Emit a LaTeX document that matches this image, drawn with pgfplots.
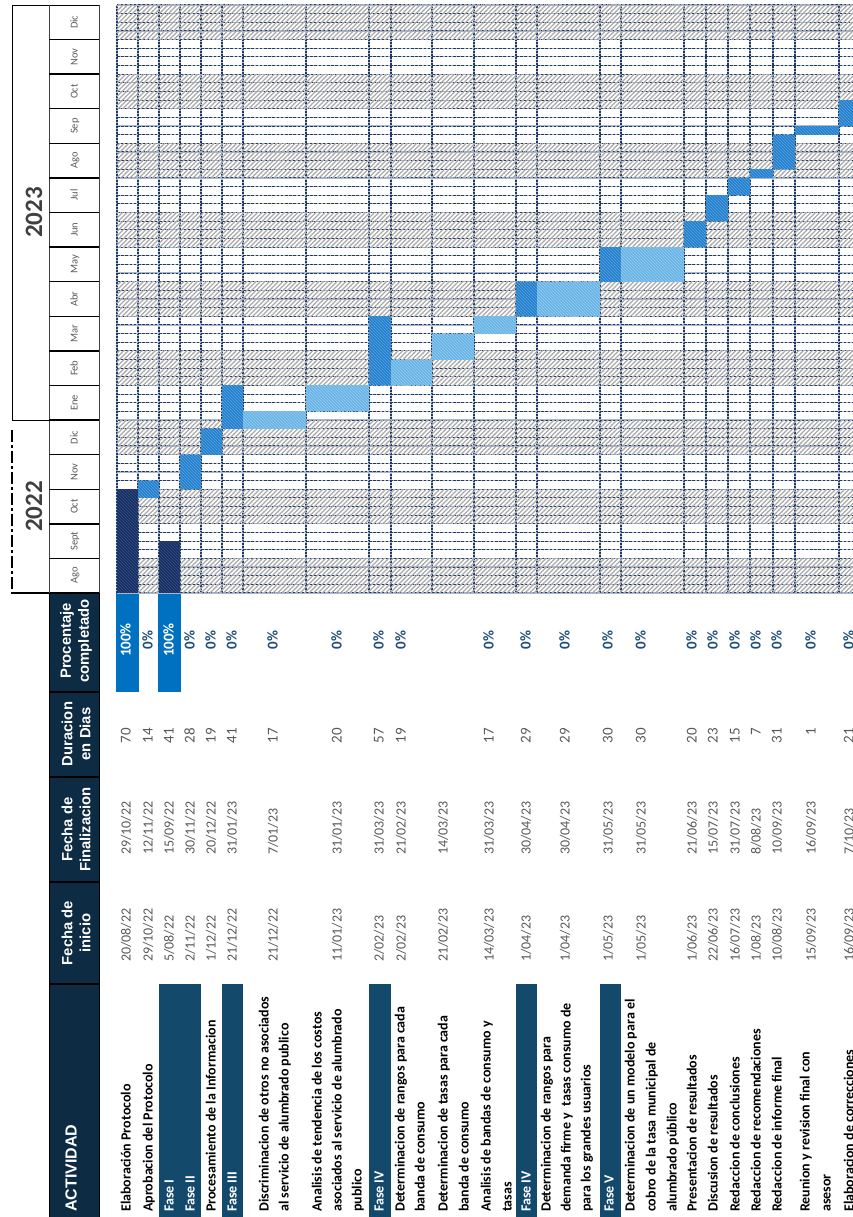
\documentclass[border=0pt]{standalone}
\usepackage{pgfplots}
\pgfplotsset{compat=1.18}
\usetikzlibrary{patterns}
\usepackage{fontspec}
\setmainfont{Carlito}
\newfontfamily\arialf{Liberation Sans}

\definecolor{hdr}{HTML}{0D2B43}
\definecolor{fase}{HTML}{134A6C}
\definecolor{pct}{HTML}{0070C0}
\definecolor{pcttxt}{HTML}{1F4E79}
\definecolor{txtgray}{HTML}{595959}
\definecolor{yeargray}{HTML}{404040}
\definecolor{gridnavy}{HTML}{1F3864}
\definecolor{gridlight}{HTML}{A9B7D3}
\definecolor{hatchc}{HTML}{ABABAB}
\definecolor{dark}{HTML}{14295A}
\definecolor{darkS}{HTML}{2E4A80}
\definecolor{med}{HTML}{1C78C8}
\definecolor{medS}{HTML}{4E9DDC}
\definecolor{light}{HTML}{62B0E4}
\definecolor{lightS}{HTML}{8DC7EE}

\pgfdeclarepatternformonly{hne}{\pgfqpoint{-1pt}{-1pt}}{\pgfqpoint{5.5pt}{5.5pt}}{\pgfqpoint{4.5pt}{4.5pt}}{%
  \pgfsetlinewidth{1.3pt}\pgfpathmoveto{\pgfqpoint{-0.2pt}{-0.2pt}}\pgfpathlineto{\pgfqpoint{4.7pt}{4.7pt}}\pgfusepath{stroke}}
\pgfdeclarepatternformonly{hnw}{\pgfqpoint{-1pt}{-1pt}}{\pgfqpoint{4pt}{4pt}}{\pgfqpoint{3pt}{3pt}}{%
  \pgfsetlinewidth{0.9pt}\pgfpathmoveto{\pgfqpoint{0pt}{3pt}}\pgfpathlineto{\pgfqpoint{3.1pt}{-0.1pt}}\pgfusepath{stroke}}

\tikzset{
  dk/.style={fill=dark, draw=none, postaction={pattern=hnw, pattern color=darkS}},
  md/.style={fill=med, draw=none, postaction={pattern=hnw, pattern color=medS}},
  lt/.style={fill=light, draw=none, postaction={pattern=hnw, pattern color=lightS}},
  rtxt/.style={rotate=90, inner sep=0pt, text height=7pt, text depth=0pt},
}

\newcommand{\act}[3][black]{\node[rtxt, anchor=west, text=#1, font=\fontsize{14}{16}\selectfont\bfseries] at (axis cs:#2,1212) {#3};}
\newcommand{\drow}[6]{%
  \node[rtxt, anchor=west, text=txtgray, font=\fontsize{14}{16}\selectfont] at (axis cs:#1,962) {#2};
  \node[rtxt, anchor=west, text=txtgray, font=\fontsize{14}{16}\selectfont] at (axis cs:#1,855) {#3};
  \node[rtxt, anchor=east, text=txtgray, font=\fontsize{15}{16}\selectfont] at (axis cs:#1,728) {#4};
  \node[rtxt, anchor=center, text=#6, font=\fontsize{15}{16}\selectfont\bfseries] at (axis cs:#1,640) {#5};}
\newcommand{\mon}[2]{\node[rtxt, anchor=center, text=txtgray, font=\fontsize{10.5}{12}\selectfont] at (axis cs:74,#1) {#2};}
\newcommand{\mline}[1]{\draw[black, line width=1.4pt] (axis cs:49,#1) -- (axis cs:99,#1);}
\newcommand{\gbar}[5]{\addplot[#5] coordinates {(#1,#3) (#2,#3) (#2,#4) (#1,#4)};}

\begin{document}
\begin{tikzpicture}
\begin{axis}[name=tbl, at={(0,0)}, anchor=south west, width=853pt, height=1217pt,
  scale only axis, xmin=0, xmax=853, ymin=0, ymax=1217, y dir=reverse,
  hide axis, clip=false]
\coordinate (g0) at (axis cs:117,593);
\coordinate (bb1) at (axis cs:0,0);
\coordinate (bb2) at (axis cs:853,1217);

\fill[hdr] (axis cs:49,593) rectangle (axis cs:99,1217);
\draw[black, line width=1.6pt] (axis cs:49,692) -- (axis cs:99,692);
\draw[black, line width=1.6pt] (axis cs:49,777) -- (axis cs:99,777);
\draw[black, line width=1.6pt] (axis cs:49,882) -- (axis cs:99,882);
\draw[black, line width=1.6pt] (axis cs:49,984) -- (axis cs:99,984);
\draw[black, line width=1pt] (axis cs:49,593) -- (axis cs:49,1217);
\draw[black, line width=1pt] (axis cs:99,593) -- (axis cs:99,1217);
\node[rotate=90, align=center, text=white, font=\arialf\fontsize{14.8}{18}\selectfont\bfseries] at (axis cs:76,641) {Procentaje\\completado};
\node[rotate=90, align=center, text=white, font=\arialf\fontsize{14.8}{18}\selectfont\bfseries] at (axis cs:76,734) {Duracion\\en Dias};
\node[rotate=90, align=center, text=white, font=\arialf\fontsize{14.8}{18}\selectfont\bfseries] at (axis cs:76,829.5) {Fecha de\\Finalizacion};
\node[rotate=90, align=center, text=white, font=\arialf\fontsize{14.8}{18}\selectfont\bfseries] at (axis cs:76,933) {Fecha de\\inicio};
\node[rtxt, anchor=west, text=white, font=\arialf\fontsize{16}{18}\selectfont\bfseries] at (axis cs:73,1212) {ACTIVIDAD};

\fill[fase] (axis cs:159,984) rectangle (axis cs:201,1217);
\fill[fase] (axis cs:222,984) rectangle (axis cs:243,1217);
\fill[fase] (axis cs:369,984) rectangle (axis cs:391,1217);
\fill[fase] (axis cs:516,984) rectangle (axis cs:537,1217);
\fill[fase] (axis cs:600,984) rectangle (axis cs:621,1217);
\fill[pct] (axis cs:116,593) rectangle (axis cs:139,692);
\fill[pct] (axis cs:158,593) rectangle (axis cs:181,692);

\act{127}{Elaboración Protocolo}
\act{149}{Aprobacion del Protocolo}
\act[white]{170}{Fase I}
\act[white]{191}{Fase II}
\act{212}{Procesamiento de la Informacion}
\act[white]{233}{Fase III}
\act{265}{Discriminacion de otros no asociados}
\act{285}{al servicio de alumbrado publico}
\act{318}{Analisis de tendencia de los costos}
\act{338}{asociados al servicio de alumbrado}
\act{358}{publico}
\act[white]{380}{Fase IV}
\act{401}{Determinacion de rangos para cada}
\act{421}{banda de consumo}
\act{444}{Determinacion de tasas para cada}
\act{465}{banda de consumo}
\act{487}{Analisis de bandas de consumo y}
\act{508}{tasas}
\act[white]{527}{Fase IV}
\act{547}{Determinacion de rangos para}
\act{567}{demanda firme y\ \ tasas consumo de}
\act{587}{para los grandes usuarios}
\act[white]{610}{Fase V}
\act{631}{Determinacion de un modelo para el}
\act{652}{cobro de la tasa municipal de}
\act{673}{alumbrado público}
\act{693}{Presentacion de resultados}
\act{714}{Discusion de resultados}
\act{736}{Redaccion de conclusiones}
\act{757}{Redaccion de recomendaciones}
\act{778}{Redaccion de informe final}
\act{806}{Reunion y revision final con}
\act{827}{asesor}
\act{850}{Elaboracion de correcciones}

\drow{127}{20/08/22}{29/10/22}{70}{100\%}{white}
\drow{149}{29/10/22}{12/11/22}{14}{0\%}{pcttxt}
\drow{170}{5/08/22}{15/09/22}{41}{100\%}{white}
\drow{191}{2/11/22}{30/11/22}{28}{0\%}{pcttxt}
\drow{212}{1/12/22}{20/12/22}{19}{0\%}{pcttxt}
\drow{233}{21/12/22}{31/01/23}{41}{0\%}{pcttxt}
\drow{274}{21/12/22}{7/01/23}{17}{0\%}{pcttxt}
\drow{338}{11/01/23}{31/01/23}{20}{0\%}{pcttxt}
\drow{380}{2/02/23}{31/03/23}{57}{0\%}{pcttxt}
\drow{402}{2/02/23}{21/02/23}{19}{0\%}{pcttxt}
\drow{444}{21/02/23}{14/03/23}{}{}{pcttxt}
\drow{490}{14/03/23}{31/03/23}{17}{0\%}{pcttxt}
\drow{527}{1/04/23}{30/04/23}{29}{0\%}{pcttxt}
\drow{566}{1/04/23}{30/04/23}{29}{0\%}{pcttxt}
\drow{609}{1/05/23}{31/05/23}{30}{0\%}{pcttxt}
\drow{642}{1/05/23}{31/05/23}{30}{0\%}{pcttxt}
\drow{693}{1/06/23}{21/06/23}{20}{0\%}{pcttxt}
\drow{714}{22/06/23}{15/07/23}{23}{0\%}{pcttxt}
\drow{736}{16/07/23}{31/07/23}{15}{0\%}{pcttxt}
\drow{757}{1/08/23}{8/08/23}{7}{0\%}{pcttxt}
\drow{778}{10/08/23}{10/09/23}{31}{0\%}{pcttxt}
\drow{812}{15/09/23}{16/09/23}{1}{0\%}{pcttxt}
\drow{850}{16/09/23}{7/10/23}{21}{0\%}{pcttxt}

\draw[black, line width=0.8pt] (axis cs:12,5) -- (axis cs:12,420.06);
\draw[black, line width=0.8pt] (axis cs:12,5) -- (axis cs:99,5);
\draw[black, line width=0.8pt] (axis cs:12,420.06) -- (axis cs:49,420.06);
\draw[black, line width=1.6pt, dash pattern=on 12pt off 3pt on 3pt off 3pt] (axis cs:12,430) -- (axis cs:12,593);
\draw[black, line width=1.6pt] (axis cs:11.2,593) -- (axis cs:99,593);
\draw[black!75, line width=0.9pt] (axis cs:49,5) -- (axis cs:49,593);
\draw[black!75, line width=0.9pt] (axis cs:99,5) -- (axis cs:99,593);
\mline{558.41}\mline{523.82}\mline{489.24}\mline{454.65}\mline{420.06}\mline{385.47}
\mline{350.88}\mline{316.29}\mline{281.71}\mline{247.12}\mline{212.53}\mline{177.94}
\mline{143.35}\mline{108.76}\mline{74.18}\mline{39.59}
\mon{575.7}{Ago}
\mon{541.1}{Sept}
\mon{506.5}{Oct}
\mon{471.9}{Nov}
\mon{437.4}{Dic}
\mon{402.8}{Ene}
\mon{368.2}{Feb}
\mon{333.6}{Mar}
\mon{299.0}{Abr}
\mon{264.4}{May}
\mon{229.8}{Jun}
\mon{195.2}{Jul}
\mon{160.6}{Ago}
\mon{126.1}{Sep}
\mon{91.5}{Oct}
\mon{56.9}{Nov}
\mon{22.3}{Dic}
\node[rotate=90, inner sep=0pt, text=yeargray, font=\fontsize{25}{28}\selectfont\bfseries] at (axis cs:34,506.5) {2022};
\node[rotate=90, inner sep=0pt, text=yeargray, font=\fontsize{25}{28}\selectfont\bfseries] at (axis cs:34,212.5) {2023};
\end{axis}

\begin{axis}[name=gantt, at={(g0)}, anchor=south west, width=736pt, height=588pt,
  scale only axis, xmin=117, xmax=853, ymin=0, ymax=68,
  axis line style={draw=none}, major tick length=0pt,
  xtick={117,138,159,180,201,222,243,306,369,391,432,474,516,537,600,621,684,706,728,750,773,795,839},
  ytick={0,1,...,68},
  xticklabel style={opacity=0, text opacity=0}, yticklabel style={opacity=0, text opacity=0},
  xmajorgrids, ymajorgrids,
  major x grid style={draw=gridlight, line width=1.3pt, postaction={draw=gridnavy, dash pattern=on 1.6pt off 1.4pt, line width=1.1pt}},
  major y grid style={draw=gridlight, line width=1.2pt, postaction={draw=gridnavy, dash pattern=on 2.6pt off 1.6pt, line width=1pt}}]
\fill[pattern=hne, pattern color=hatchc] (axis cs:117,0) rectangle (axis cs:853,4);
\fill[pattern=hne, pattern color=hatchc] (axis cs:117,8) rectangle (axis cs:853,12);
\fill[pattern=hne, pattern color=hatchc] (axis cs:117,16) rectangle (axis cs:853,20);
\fill[pattern=hne, pattern color=hatchc] (axis cs:117,24) rectangle (axis cs:853,28);
\fill[pattern=hne, pattern color=hatchc] (axis cs:117,32) rectangle (axis cs:853,36);
\fill[pattern=hne, pattern color=hatchc] (axis cs:117,40) rectangle (axis cs:853,44);
\fill[pattern=hne, pattern color=hatchc] (axis cs:117,48) rectangle (axis cs:853,52);
\fill[pattern=hne, pattern color=hatchc] (axis cs:117,56) rectangle (axis cs:853,60);
\fill[pattern=hne, pattern color=hatchc] (axis cs:117,64) rectangle (axis cs:853,68);
\gbar{117}{138}{0}{12}{dk}
\gbar{138}{159}{11}{13}{md}
\gbar{159}{180}{0}{6}{dk}
\gbar{180}{201}{12}{16}{md}
\gbar{201}{222}{16}{19}{md}
\gbar{222}{243}{19}{24}{md}
\gbar{243}{306}{19}{21}{lt}
\gbar{306}{369}{21}{24}{lt}
\gbar{369}{391}{24}{32}{md}
\gbar{391}{432}{24}{27}{lt}
\gbar{432}{474}{27}{30}{lt}
\gbar{474}{516}{30}{32}{lt}
\gbar{516}{537}{32}{36}{md}
\gbar{537}{600}{32}{36}{lt}
\gbar{600}{621}{36}{40}{md}
\gbar{621}{684}{36}{40}{lt}
\gbar{684}{706}{40}{43}{md}
\gbar{706}{728}{43}{46}{md}
\gbar{728}{750}{46}{48}{md}
\gbar{750}{773}{48}{49}{md}
\gbar{773}{795}{49}{53}{md}
\gbar{795}{839}{53}{54}{md}
\gbar{839}{860}{54}{57}{md}
\end{axis}
\pgfresetboundingbox
\path[use as bounding box] (bb1) rectangle (bb2);
\end{tikzpicture}
\end{document}
